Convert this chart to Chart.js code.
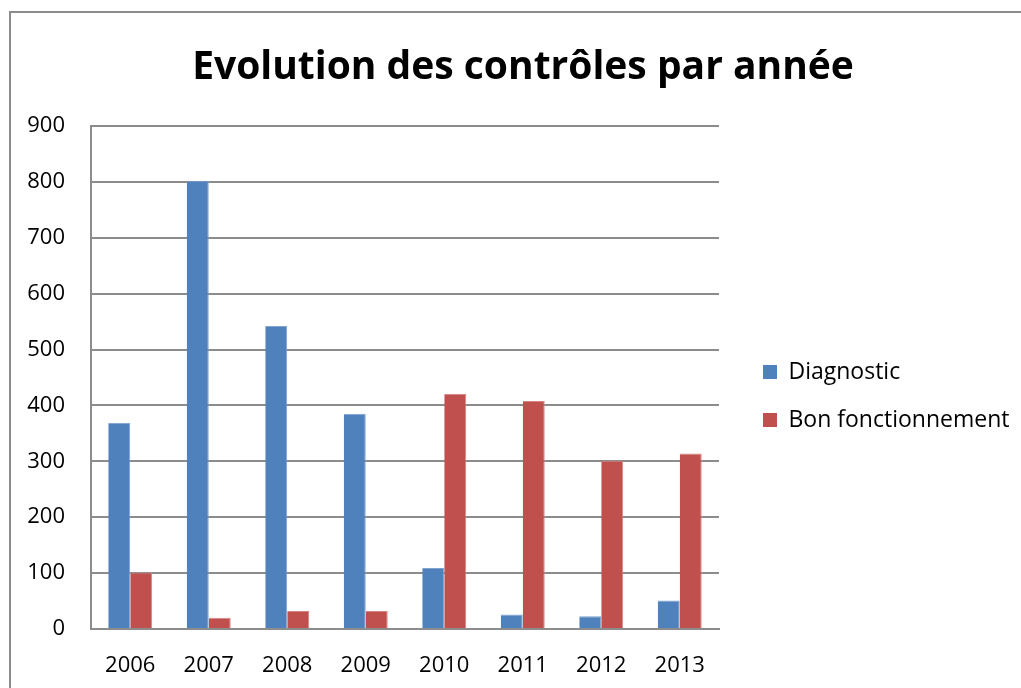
<!DOCTYPE html>
<html>
<head>
<meta charset="utf-8">
<script src="https://cdn.jsdelivr.net/npm/chart.js@4"></script>
<style>
  html, body { margin: 0; padding: 0; background: #fff; overflow: hidden; }
  #wrap { position: relative; width: 1021px; height: 688px; }
  #frame { position: absolute; left: 9px; top: 11px; width: 1100px; height: 800px;
           border-left: 2px solid #8c8c8c; border-top: 2px solid #8c8c8c; pointer-events: none; }
  canvas { position: absolute; left: 0; top: 0; }
</style>
</head>
<body>
<div id="wrap">
  <canvas id="c" width="1021" height="688"></canvas>
  <div id="frame"></div>
</div>
<script>
const titleText = 'Evolution des contrôles par année';
const years = ['2006', '2007', '2008', '2009', '2010', '2011', '2012', '2013'];
const seriesNames = ['Diagnostic', 'Bon fonctionnement'];
const diagnostic = [369, 802, 542, 385, 109, 26, 23, 51];
const bonFonctionnement = [101, 20, 32, 32, 421, 408, 301, 314];
const yTicks = [0, 100, 200, 300, 400, 500, 600, 700, 800, 900];

const FONT = '"Open Sans", "Liberation Sans", sans-serif';
const legendFontSize = 23;
const legendPad = 48 - legendFontSize;
const legendBox = 14;

// layout targets (page pixels)
const plotLeft = 91, plotRight = 719, plotBottom = 629, legendBoxLeft = 763, titleCenter = 523;
const H = 688;

const mctx = document.createElement('canvas').getContext('2d');
mctx.font = legendFontSize + 'px ' + FONT;
const textW = Math.max(...seriesNames.map(s => mctx.measureText(s).width));
const legendLeft = legendBoxLeft - legendPad;
const legendWidth = legendPad + legendBox + legendFontSize / 2 + textW + 10;
const rightEdge = legendLeft + legendWidth;
const padR = 1021 - rightEdge;
const padL = padR + 2 * (titleCenter - 1021 / 2);

new Chart(document.getElementById('c'), {
  type: 'bar',
  data: {
    labels: years,
    datasets: [
      { label: seriesNames[0], data: diagnostic, backgroundColor: '#4F81BD',
        borderColor: '#7FA2CF', borderWidth: { top: 1, right: 1, left: 0, bottom: 0 } },
      { label: seriesNames[1], data: bonFonctionnement, backgroundColor: '#C0504D',
        borderColor: '#D58482', borderWidth: { top: 1, right: 1, left: 0, bottom: 0 } }
    ]
  },
  options: {
    responsive: false,
    animation: false,
    devicePixelRatio: 1,
    layout: { padding: { left: padL, right: padR, top: 0, bottom: 0 } },
    datasets: { bar: { categoryPercentage: 0.56, barPercentage: 1 } },
    plugins: {
      title: {
        display: true, text: titleText, color: '#000',
        font: { family: FONT, size: 39, weight: 'bold', lineHeight: 1.2 },
        padding: { top: 44.6, bottom: 34.6 }
      },
      legend: {
        display: true, position: 'right', fullSize: false, maxWidth: 600,
        title: { display: true, text: '', font: { size: 12, lineHeight: 1 }, padding: 12.5 },
        labels: {
          color: '#000', boxWidth: legendBox, boxHeight: legendBox, padding: legendPad,
          font: { family: FONT, size: legendFontSize },
          generateLabels: chart => chart.data.datasets.map((ds, i) => ({
            text: ds.label, fillStyle: ds.backgroundColor, strokeStyle: ds.backgroundColor,
            lineWidth: 0, hidden: false, datasetIndex: i, fontColor: '#000'
          }))
        }
      },
      tooltip: { enabled: false }
    },
    scales: {
      x: {
        afterFit: s => { s.height = H - plotBottom; },
        grid: { display: false, drawTicks: false },
        border: { display: true, color: '#8c8c8c', width: 2 },
        ticks: { color: '#000', padding: 24, font: { family: FONT, size: 22, lineHeight: 1.2 } }
      },
      y: {
        min: 0, max: 900,
        afterFit: s => { s.width = plotLeft - padL; s._computeLabelArea = () => undefined; },
        afterBuildTicks: s => { s.ticks = yTicks.map(v => ({ value: v })); },
        grid: { color: '#8c8c8c', lineWidth: 2, drawTicks: false },
        border: { display: true, color: '#8c8c8c', width: 2 },
        ticks: { color: '#000', padding: 26, font: { family: FONT, size: 22, lineHeight: 1.2 } }
      },
      gap: {
        type: 'linear', position: 'right', display: true,
        afterFit: s => { s.width = legendLeft - plotRight; },
        grid: { display: false, drawTicks: false },
        border: { display: false },
        ticks: { display: false }
      }
    }
  }
});
</script>
</body>
</html>
